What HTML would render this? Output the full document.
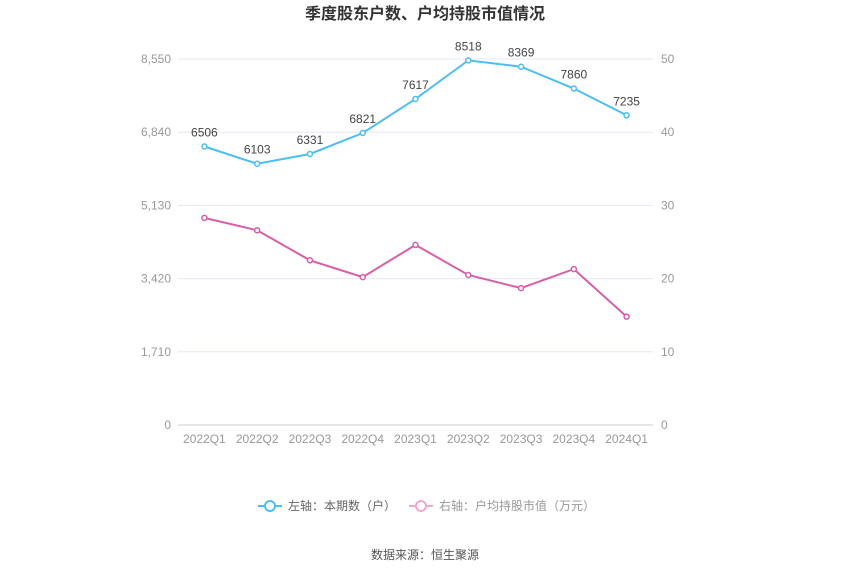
<!DOCTYPE html>
<html><head><meta charset="utf-8"><style>
body{margin:0;background:#fff;font-family:"Liberation Sans","Noto Sans CJK SC",sans-serif;}
</style></head><body>
<svg id="chart" width="850" height="575" xmlns="http://www.w3.org/2000/svg" font-family="Liberation Sans, Noto Sans CJK SC, sans-serif">
<text x="425" y="19" text-anchor="middle" font-size="16" font-weight="bold" fill="#333">季度股东户数、户均持股市值情况</text>
<g id="grid"></g><g id="axes"></g><g id="series"></g>
<g>
 <g>
  <line x1="258" y1="506" x2="282" y2="506" stroke="#4dbef2" stroke-width="2"/>
  <circle cx="270" cy="506" r="5" fill="#fff" stroke="#4dbef2" stroke-width="2"/>
  <text x="288" y="510" font-size="12" fill="#666">左轴：本期数（户）</text>
 </g>
 <g>
  <line x1="409" y1="506" x2="433" y2="506" stroke="#f0a8d2" stroke-width="2"/>
  <circle cx="421" cy="506" r="5" fill="#fff" stroke="#f0a8d2" stroke-width="2"/>
  <text x="439" y="510" font-size="12" fill="#999">右轴：户均持股市值（万元）</text>
 </g>
</g>
<text x="425" y="559" text-anchor="middle" font-size="12" fill="#555">数据来源：恒生聚源</text>
</svg>
<script>
const categories=["2022Q1","2022Q2","2022Q3","2022Q4","2023Q1","2023Q2","2023Q3","2023Q4","2024Q1"];
const holders=[6506,6103,6331,6821,7617,8518,8369,7860,7235];
const avgValue=[28.3,26.6,22.5,20.2,24.6,20.5,18.7,21.3,14.8];
const leftTicks=[0,1710,3420,5130,6840,8550];
const rightTicks=[0,10,20,30,40,50];
const NS="http://www.w3.org/2000/svg";
const x0=178,x1=653,yTop=59,yBot=425;
const step=(x1-x0)/categories.length;
const xs=i=>x0+step*(i+0.5);
const yL=v=>yBot-(v/8550)*(yBot-yTop);
const yR=v=>yBot-(v/50)*(yBot-yTop);
function mk(t,a,p){const e=document.createElementNS(NS,t);for(const k in a)e.setAttribute(k,a[k]);p.appendChild(e);return e;}
const grid=document.getElementById('grid'),axes=document.getElementById('axes'),ser=document.getElementById('series');
leftTicks.forEach((v,i)=>{
 const y=yL(v);
 const l=mk('line',{x1:x0,x2:x1,y1:y,y2:y,stroke:i?'#e3e8f2':'#ccc'},grid);
 
 
 const t=mk('text',{x:x0-7,y:y+4,'text-anchor':'end','font-size':12,fill:'#999'},axes);t.textContent=v.toLocaleString('en-US');
 
 
});
rightTicks.forEach(v=>{
 const t=mk('text',{x:x1+8,y:yR(v)+4,'font-size':12,fill:'#999'},axes);t.textContent=v;
 
 
});
categories.forEach((c,i)=>{
 const t=mk('text',{x:xs(i),y:443,'text-anchor':'middle','font-size':12,fill:'#999'},axes);t.textContent=c;
 
 
});
function line(vals,yf,color,name,labels){
 const p=mk('polyline',{points:vals.map((v,i)=>xs(i)+','+yf(v)).join(' '),fill:'none',stroke:color,'stroke-width':2},ser);
 
 
 vals.forEach((v,i)=>{
  const c=mk('circle',{cx:xs(i),cy:yf(v),r:2.5,fill:'#fff',stroke:color,'stroke-width':1.5},ser);
  
  
  if(labels){const t=mk('text',{x:xs(i),y:yf(v)-10,'text-anchor':'middle','font-size':12,fill:'#444'},ser);t.textContent=v;
   
   }
 });
}
line(holders,yL,'#4dbef2','holders',true);
line(avgValue,yR,'#d65fa8','avg-value',false);
</script>
</body></html>
